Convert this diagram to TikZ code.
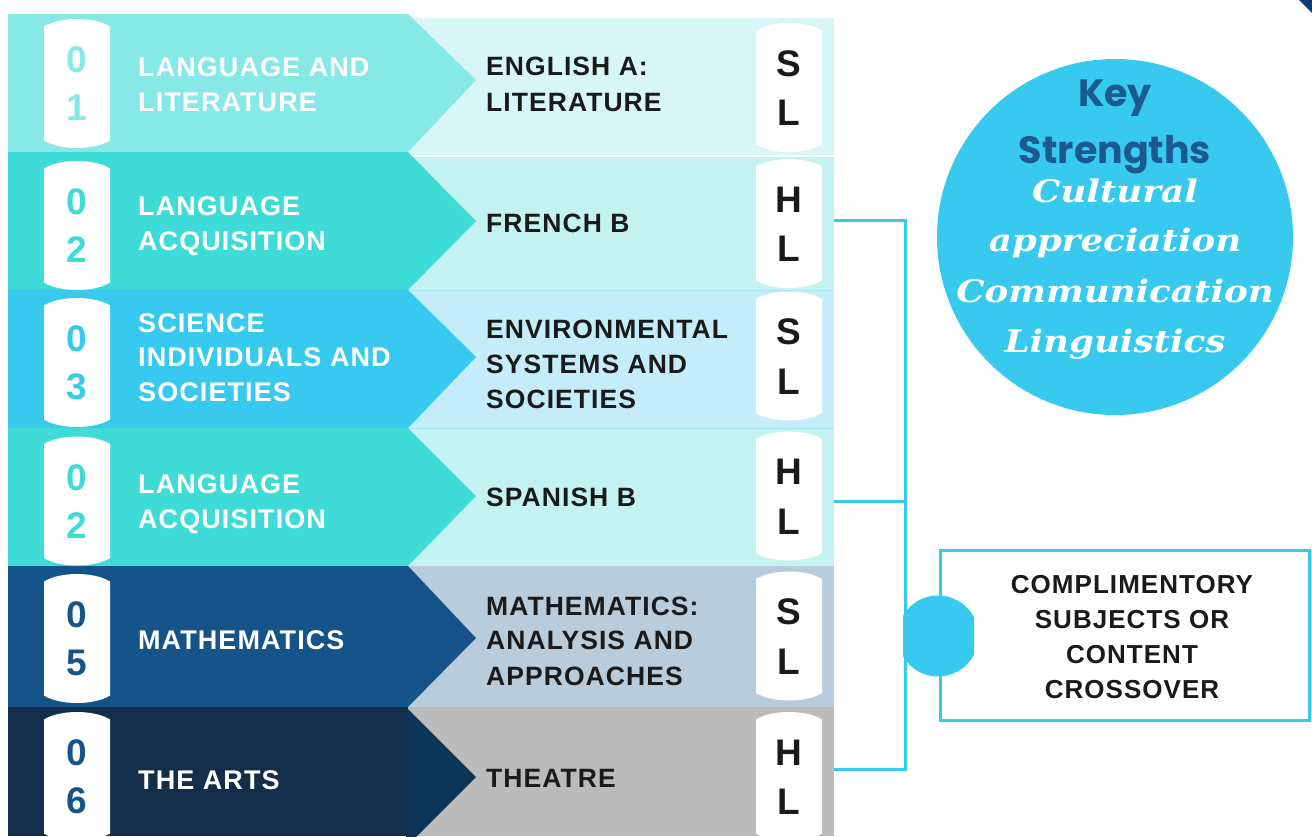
\documentclass[tikz,border=0pt]{standalone}
\usepackage{fontspec}
\setmainfont{Liberation Sans}
\newfontfamily\trackfont[LetterSpace=4]{Liberation Sans}
\newfontfamily\digitfont{Liberation Sans}
\newfontfamily\keyfont{Poppins}
\newfontfamily\slabfont[FakeStretch=1.15]{DejaVu Serif}
\definecolor{c1}{HTML}{87E9E6}
\definecolor{c1r}{HTML}{D8F6F6}
\definecolor{c2}{HTML}{3FDBD6}
\definecolor{c2r}{HTML}{C4F2F0}
\definecolor{c3}{HTML}{38C9EF}
\definecolor{c3r}{HTML}{C4ECF9}
\definecolor{c5}{HTML}{155388}
\definecolor{c5r}{HTML}{B8CCDB}
\definecolor{c6}{HTML}{122E4A}
\definecolor{c6a}{HTML}{0D3558}
\definecolor{c6r}{HTML}{BBBBBB}
\definecolor{txt}{HTML}{1A1A1A}
\definecolor{keyblue}{HTML}{1B5A8E}
\definecolor{cline}{HTML}{38C9EF}
\definecolor{sepline}{HTML}{A6E8F2}
\definecolor{cornerblue}{HTML}{0D3A78}
\newcommand\capsule[2]{\fill[white] (#1,#2-57) .. controls (#1+16,#2-67) and (#1+50,#2-67) .. (#1+66,#2-57) -- (#1+66,#2+57) .. controls (#1+50,#2+67) and (#1+16,#2+67) .. (#1,#2+57) -- cycle;}
\begin{document}
\begin{tikzpicture}[x=1pt,y=-1pt,
  ltxt/.style={anchor=base west, inner sep=0, text=white, font=\trackfont\bfseries\fontsize{27}{35}\selectfont},
  rtxt/.style={anchor=base west, inner sep=0, text=txt, font=\trackfont\bfseries\fontsize{26.5}{35}\selectfont},
  btxt/.style={anchor=base, inner sep=0, text=txt, font=\trackfont\bfseries\fontsize{26}{35}\selectfont},
  dig/.style={anchor=base, inner sep=0, font=\digitfont\bfseries\fontsize{37}{37}\selectfont},
  lvl/.style={anchor=base, inner sep=0, text=txt, font=\digitfont\bfseries\fontsize{37}{37}\selectfont},
  keyt/.style={anchor=base, inner sep=0, text=keyblue, font=\keyfont\bfseries\fontsize{38}{38}\selectfont},
  slab/.style={anchor=base, inner sep=0, text=white, font=\slabfont\bfseries\itshape\fontsize{31}{31}\selectfont},
  conn/.style={draw=cline, line width=3pt}
]
\useasboundingbox (0,0) rectangle (1312,836);
% corner mark
\fill[cornerblue] (1299,0) -- (1312,0) -- (1312,13) -- cycle;
% right panels
\fill[c1r] (408,18) rectangle (834,156);
\fill[c2r] (408,156) rectangle (834,290);
\fill[c3r] (408,290) rectangle (834,428);
\fill[c2r] (408,428) rectangle (834,566);
\fill[c5r] (408,566) rectangle (834,707);
\fill[c6r] (408,707) rectangle (834,836);
\draw[white, line width=1.5pt] (408,156) -- (834,156);
\draw[sepline, line width=1pt] (408,290) -- (834,290);
\draw[sepline, line width=1pt] (408,428) -- (834,428);
% left arrows
\fill[c1] (8,14) -- (408,14) -- (476,80) -- (408,152) -- (8,152) -- cycle;
\fill[c2] (8,152) -- (408,152) -- (476,221) -- (408,290) -- (8,290) -- cycle;
\fill[c3] (8,290) -- (408,290) -- (476,357) -- (408,428) -- (8,428) -- cycle;
\fill[c2] (8,428) -- (408,428) -- (476,496) -- (408,566) -- (8,566) -- cycle;
\fill[c5] (8,566) -- (408,566) -- (476,638) -- (408,707) -- (8,707) -- cycle;
\fill[c6a] (406,707) -- (476,777) -- (406,847) -- cycle;
\fill[c6] (8,707) rectangle (408,836);
% number badges
\capsule{44}{83.5}\capsule{44}{225.5}\capsule{44}{362.5}\capsule{44}{501}\capsule{44}{638.5}\capsule{44}{776.5}
\node[dig,text=c1] (n1a) at (77,72.5) {0};  \node[dig,text=c1] (n1b) at (77,120.5) {1};
\node[dig,text=c2] (n2a) at (77,214.5) {0}; \node[dig,text=c2] (n2b) at (77,262.5) {2};
\node[dig,text=c3] (n3a) at (77,351.5) {0}; \node[dig,text=c3] (n3b) at (77,399.5) {3};
\node[dig,text=c2] (n4a) at (77,490) {0};   \node[dig,text=c2] (n4b) at (77,538) {2};
\node[dig,text=c5] (n5a) at (77,627.5) {0}; \node[dig,text=c5] (n5b) at (77,675.5) {5};
\node[dig,text=c5] (n6a) at (77,765.5) {0}; \node[dig,text=c5] (n6b) at (77,813.5) {6};
% level badges
\capsule{756}{87.5}\capsule{756}{223.5}\capsule{756}{356}\capsule{756}{496}\capsule{756}{636}\capsule{756}{776.5}
\node[lvl] (l1a) at (789,76) {S};    \node[lvl] (l1b) at (789,125.5) {L};
\node[lvl] (l2a) at (789,212) {H};   \node[lvl] (l2b) at (789,261.5) {L};
\node[lvl] (l3a) at (789,344.5) {S}; \node[lvl] (l3b) at (789,394) {L};
\node[lvl] (l4a) at (789,484.5) {H}; \node[lvl] (l4b) at (789,534) {L};
\node[lvl] (l5a) at (789,624.5) {S}; \node[lvl] (l5b) at (789,674) {L};
\node[lvl] (l6a) at (789,765) {H};   \node[lvl] (l6b) at (789,814.5) {L};
% left texts
\node[ltxt] (g1a) at (138,76) {LANGUAGE AND};
\node[ltxt] (g1b) at (138,111) {LITERATURE};
\node[ltxt] (g2a) at (138,215) {LANGUAGE};
\node[ltxt] (g2b) at (138,250) {ACQUISITION};
\node[ltxt] (g3a) at (138,332) {SCIENCE};
\node[ltxt] (g3b) at (138,366) {INDIVIDUALS AND};
\node[ltxt] (g3c) at (138,401) {SOCIETIES};
\node[ltxt] (g4a) at (138,493) {LANGUAGE};
\node[ltxt] (g4b) at (138,528) {ACQUISITION};
\node[ltxt] (g5a) at (138,649) {MATHEMATICS};
\node[ltxt] (g6a) at (138,789) {THE ARTS};
% right texts
\node[rtxt] (s1a) at (486,75) {ENGLISH A:};
\node[rtxt] (s1b) at (486,111) {LITERATURE};
\node[rtxt] (s2a) at (486,232) {FRENCH B};
\node[rtxt] (s3a) at (486,338) {ENVIRONMENTAL};
\node[rtxt] (s3b) at (486,373) {SYSTEMS AND};
\node[rtxt] (s3c) at (486,408) {SOCIETIES};
\node[rtxt] (s4a) at (486,506) {SPANISH B};
\node[rtxt] (s5a) at (486,615) {MATHEMATICS:};
\node[rtxt] (s5b) at (486,649) {ANALYSIS AND};
\node[rtxt] (s5c) at (486,685) {APPROACHES};
\node[rtxt] (s6a) at (486,787) {THEATRE};
% key strengths circle
\node[circle, fill=cline, minimum size=356pt, inner sep=0] (ks) at (1115,237) {};
\node[keyt] (k1) at (1115,106) {Key};
\node[keyt] (k2) at (1115,163) {Strengths};
\node[slab] (k3) at (1115,202) {Cultural};
\node[slab] (k4) at (1115,251) {appreciation};
\node[slab] (k5) at (1115,302) {Communication};
\node[slab] (k6) at (1115,352) {Linguistics};
% connectors
\coordinate (p2) at (834,220); \coordinate (p4) at (834,501); \coordinate (p6) at (834,769);
\coordinate (j2) at (905,220); \coordinate (j4) at (905,501); \coordinate (j6) at (905,769);
\draw[conn] (p2) -- (j2);
\draw[conn] (p4) -- (j4);
\draw[conn] (p6) -- (j6);
\draw[conn, line cap=rect] (j2) -- (j6);
% box
\node[draw=cline, line width=3pt, minimum width=369pt, minimum height=170pt, inner sep=0] (box) at (1124.5,635) {};
\begin{scope}
\clip (903,580) rectangle (974,700);
\fill[cline] (938,636) circle (40.5);
\end{scope}
\node[btxt] (b1) at (1132,593) {COMPLIMENTORY};
\node[btxt] (b2) at (1132,628.5) {SUBJECTS OR};
\node[btxt] (b3) at (1132,663) {CONTENT};
\node[btxt] (b4) at (1132,698) {CROSSOVER};
\end{tikzpicture}
\end{document}
